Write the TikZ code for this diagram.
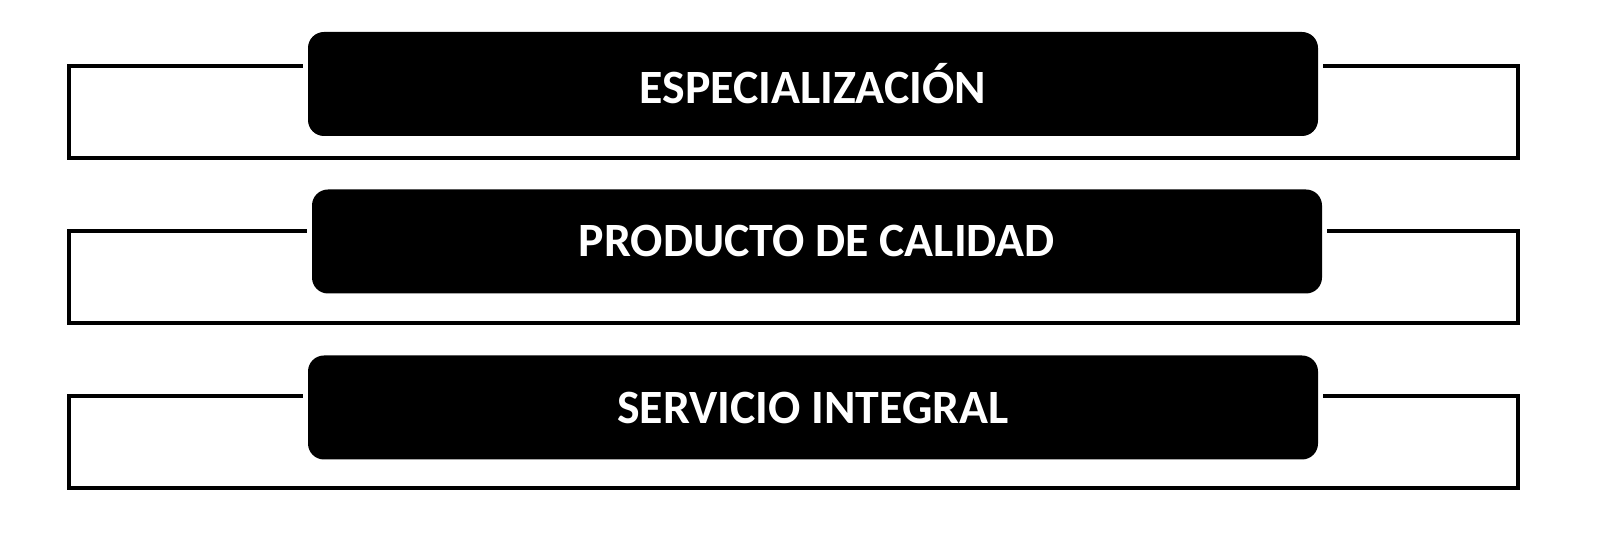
\documentclass[tikz,border=0pt]{standalone}
\usepackage{fontspec}
\newfontfamily\tabfont{Carlito}
\usepackage{tikz}

\begin{document}
\begin{tikzpicture}
        [
            frame/.style = {draw, line width = 0.1cm, minimum width = 36.225cm, minimum height = 2.3cm, inner sep = 0pt},
            tab/.style = {fill = black, text = white, rounded corners = 0.4cm, minimum width = 25.25cm, minimum height = 2.6cm,
                font = \tabfont\bfseries\fontsize{34}{40}\selectfont, preaction = {draw = white, line width = 0.24cm}}
        ]
        \useasboundingbox (0,0) rectangle (40,13.45);

        % outer frames
        \node [frame] (frame1) at (19.8375, 10.65) {};
        \node [frame] (frame2) at (19.8375, 6.525) {};
        \node [frame] (frame3) at (19.8375, 2.3875) {};

        % black tabs on top
        \node [tab] (tab1) at (20.325, 11.35) {ESPECIALIZACIÓN};
        \node [tab] (tab2) at (20.425, 7.4125) {PRODUCTO DE CALIDAD};
        \node [tab] (tab3) at (20.325, 3.2625) {SERVICIO INTEGRAL};
    \end{tikzpicture}
\end{document}
